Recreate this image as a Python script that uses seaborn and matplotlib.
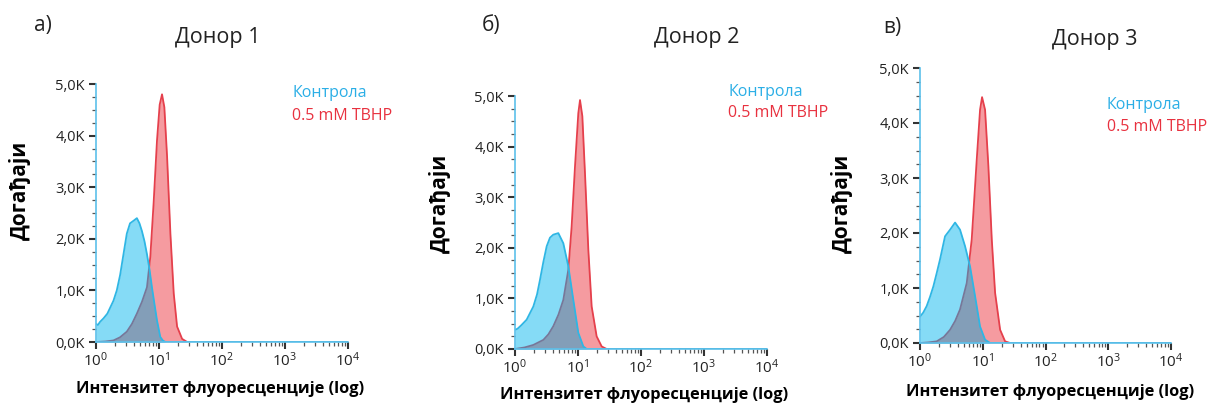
import numpy as np
import pandas as pd
import matplotlib
matplotlib.use("Agg")
import matplotlib.pyplot as plt
import matplotlib.ticker as mticker
import seaborn as sns

# ---- data: log10(fluorescence intensity) and event counts (thousands) ----
donors = ["Донор 1", "Донор 2", "Донор 3"]
panel_letters = ["а)", "б)", "в)"]
series_names = ["Контрола", "0.5 mM TBHP"]

ctrl_log_1 = [0.0, 0.03, 0.064, 0.12, 0.18, 0.277, 0.33, 0.383, 0.436, 0.489, 0.54, 0.596, 0.649,
              0.69, 0.729, 0.77, 0.809, 0.85, 0.888, 0.93, 0.968, 1.02, 1.06, 1.10, 4.0]
ctrl_cnt_1 = [0.35, 0.33, 0.39, 0.46, 0.55, 0.80, 1.00, 1.30, 1.70, 2.10, 2.30, 2.35, 2.40,
              2.30, 2.15, 1.95, 1.70, 1.40, 1.06, 0.72, 0.42, 0.10, 0.03, 0.0, 0.0]
tbhp_log_1 = [0.0, 0.15, 0.277, 0.38, 0.489, 0.57, 0.649, 0.73, 0.809, 0.862, 0.915, 0.968, 1.011,
              1.048, 1.085, 1.128, 1.181, 1.234, 1.287, 1.367, 1.447, 4.0]
tbhp_cnt_1 = [0.0, 0.01, 0.03, 0.09, 0.20, 0.35, 0.55, 0.78, 1.06, 1.65, 2.70, 3.90, 4.60,
              4.80, 4.55, 3.60, 2.10, 0.94, 0.30, 0.06, 0.0, 0.0]

ctrl_log_2 = [0.0, 0.04, 0.10, 0.185, 0.291, 0.35, 0.397, 0.45, 0.503, 0.555, 0.608, 0.688, 0.767,
              0.847, 0.926, 1.005, 1.085, 1.138, 4.0]
ctrl_cnt_2 = [0.38, 0.40, 0.47, 0.58, 0.84, 1.08, 1.37, 1.72, 2.03, 2.20, 2.26, 2.29, 2.09,
              1.63, 0.97, 0.32, 0.05, 0.0, 0.0]
tbhp_log_2 = [0.0, 0.15, 0.291, 0.450, 0.53, 0.608, 0.69, 0.767, 0.847, 0.899, 0.952, 1.005, 1.032,
              1.069, 1.111, 1.164, 1.217, 1.296, 1.376, 1.455, 4.0]
tbhp_cnt_2 = [0.0, 0.03, 0.08, 0.18, 0.29, 0.45, 0.68, 0.97, 1.57, 2.42, 3.60, 4.66, 4.92,
              4.60, 3.47, 1.96, 0.84, 0.25, 0.05, 0.0, 0.0]

ctrl_log_3 = [0.0, 0.05, 0.106, 0.16, 0.213, 0.266, 0.319, 0.399, 0.479, 0.559, 0.638, 0.718, 0.798,
              0.878, 0.957, 1.037, 1.117, 4.0]
ctrl_cnt_3 = [0.48, 0.55, 0.67, 0.84, 1.03, 1.27, 1.52, 1.94, 2.06, 2.19, 2.06, 1.76, 1.39,
              0.85, 0.30, 0.06, 0.0, 0.0]
tbhp_log_3 = [0.0, 0.13, 0.266, 0.38, 0.479, 0.56, 0.638, 0.745, 0.824, 0.904, 0.957, 0.989, 1.037,
              1.090, 1.144, 1.197, 1.277, 1.356, 1.436, 4.0]
tbhp_cnt_3 = [0.0, 0.01, 0.03, 0.11, 0.24, 0.40, 0.61, 1.09, 1.88, 3.33, 4.24, 4.47, 4.24,
              3.21, 1.88, 0.91, 0.24, 0.03, 0.0, 0.0]

panels = [
    (ctrl_log_1, ctrl_cnt_1, tbhp_log_1, tbhp_cnt_1),
    (ctrl_log_2, ctrl_cnt_2, tbhp_log_2, tbhp_cnt_2),
    (ctrl_log_3, ctrl_cnt_3, tbhp_log_3, tbhp_cnt_3),
]

y_ticks = [0, 1, 2, 3, 4, 5]
x_label = "Интензитет флуоресценције (log)"
y_label = "Догађаји"

# ---- styling ----
sns.set_theme(style="ticks")
plt.rcParams["font.family"] = ["Open Sans", "DejaVu Sans"]
plt.rcParams["mathtext.fontset"] = "custom"
plt.rcParams["mathtext.rm"] = "Open Sans"
plt.rcParams["mathtext.it"] = "Open Sans:italic"
plt.rcParams["mathtext.bf"] = "Open Sans:bold"

W, H = 1210, 405
fig = plt.figure(figsize=(W / 100, H / 100), dpi=100)

# axes boxes in pixels: left, top, right, bottom
boxes = [(96, 84, 348, 342), (515, 96, 767, 349), (920, 68, 1171, 343)]
legend_pos = [(292, 93, 116), (728, 92, 113), (1107, 105, 127)]
letter_pos = [(43, 25), (491, 25), (892, 27)]
title_pos = [(218, 37), (697, 38), (1095, 39)]
ylab_pos = [(20, 190), (440, 203), (842, 203)]
xlab_pos = [(220, 389), (644, 395), (1050, 392)]

CYAN_LINE = "#2fb6e4"
CYAN_FILL = "#00b4ee"
RED_LINE = "#e5404c"
RED_FILL = "#f59ba0"
OVERLAP = "#8c8c9a"
AXIS_COL = "#5cc0ea"
TEXT_COL = "#222222"


def fx(px):
    return px / W


def fy(py):
    return 1 - py / H


for i, (cl, cc, tl, tc) in enumerate(panels):
    l, t, r, b = boxes[i]
    ax = fig.add_axes([fx(l), fy(b), (r - l) / W, (b - t) / H])

    ctrl = pd.DataFrame({"x": 10 ** np.array(cl), "y": cc})
    tbhp = pd.DataFrame({"x": 10 ** np.array(tl), "y": tc})

    ax.fill_between(tbhp["x"], tbhp["y"], color=RED_FILL, lw=0, zorder=1)
    sns.lineplot(data=tbhp, x="x", y="y", ax=ax, color=RED_LINE, lw=1.3,
                 sort=False, estimator=None, zorder=2)
    cyan_poly = ax.fill_between(ctrl["x"], ctrl["y"], color=CYAN_FILL, alpha=0.48,
                                lw=0, zorder=3)
    # grey tint where both distributions overlap
    ov = ax.fill_between(tbhp["x"], tbhp["y"], color=OVERLAP, alpha=0.3, lw=0, zorder=3.5)
    ov.set_clip_path(cyan_poly.get_paths()[0], transform=ax.transData)
    sns.lineplot(data=ctrl, x="x", y="y", ax=ax, color=CYAN_LINE, lw=1.3,
                 sort=False, estimator=None, zorder=4)

    ax.set_xscale("log")
    ax.set_xlim(1, 1e4)
    ax.set_ylim(0, 5)
    ax.set_yticks(y_ticks)
    ax.yaxis.set_major_formatter(mticker.FuncFormatter(
        lambda v, p: f"{v:.1f}K".replace(".", ",")))
    ax.yaxis.set_minor_locator(mticker.MultipleLocator(0.25))
    ax.xaxis.set_major_locator(mticker.LogLocator(base=10, numticks=10))
    ax.xaxis.set_minor_locator(mticker.LogLocator(base=10, subs=np.arange(2, 10), numticks=10))
    ax.xaxis.set_major_formatter(mticker.LogFormatterSciNotation())

    for s in ["top", "right"]:
        ax.spines[s].set_visible(False)
    for s in ["left", "bottom"]:
        ax.spines[s].set_color(AXIS_COL)
        ax.spines[s].set_linewidth(1.2)
        ax.spines[s].set_zorder(5)

    ax.tick_params(axis="both", which="major", direction="out", length=5, width=1.5,
                   color="#333333", labelsize=10.5, labelcolor=TEXT_COL, pad=3)
    ax.tick_params(axis="x", which="major", labelsize=11, pad=2)
    ax.tick_params(axis="both", which="minor", direction="out", length=2.8, width=0.9,
                   color="#555555")
    ax.patch.set_alpha(0)

    ax.set_xlabel("")
    ax.set_ylabel("")

    # legend entries as coloured text
    lx, ly1, ly2 = legend_pos[i]
    fig.text(fx(lx), fy(ly1), series_names[0], color="#2aaee6", fontsize=11.5,
             ha="left", va="center")
    fig.text(fx(lx), fy(ly2), series_names[1], color="#e8313f", fontsize=11.5,
             ha="left", va="center")

    fig.text(fx(letter_pos[i][0]), fy(letter_pos[i][1]), panel_letters[i],
             fontsize=15, color=TEXT_COL, ha="center", va="center")
    fig.text(fx(title_pos[i][0]), fy(title_pos[i][1]), donors[i],
             fontsize=15.5, color=TEXT_COL, ha="center", va="center")
    fig.text(fx(ylab_pos[i][0]), fy(ylab_pos[i][1]), y_label, rotation=90,
             fontsize=15, fontweight="bold", color="black", ha="center", va="center")
    fig.text(fx(xlab_pos[i][0]), fy(xlab_pos[i][1]), x_label,
             fontsize=11.8, fontweight="bold", color="black", ha="center", va="center")

fig.savefig("out.png", dpi=100, facecolor="white")
